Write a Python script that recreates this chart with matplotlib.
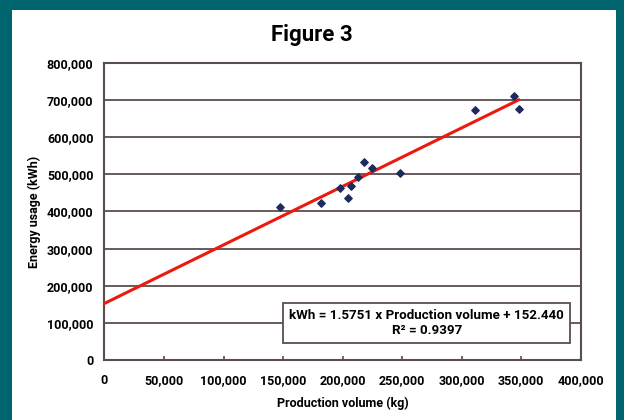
import numpy as np
import matplotlib.pyplot as plt
from matplotlib.patches import Rectangle
from matplotlib.ticker import FuncFormatter

plt.rcParams['font.family'] = ['Roboto', 'DejaVu Sans']
plt.rcParams['font.weight'] = 'bold'

# production volume (kg) vs energy usage (kWh)
production_kg = [147600, 182000, 198000, 204500, 207000, 213000,
                 218000, 225000, 248500, 311500, 344000, 348000]
energy_kwh = [411000, 424000, 463000, 436000, 468000, 493000,
              532000, 518000, 504000, 673000, 711000, 676000]

# fitted trend line
slope = 1.5751
intercept = 152440
r_squared = 0.9397

x_ticks = np.arange(0, 400001, 50000)
y_ticks = np.arange(0, 800001, 100000)

teal = '#00646e'
frame = '#5a4d4e'

fig = plt.figure(figsize=(6.24, 4.2), dpi=100)
fig.patch.set_facecolor(teal)
fig.patches.append(Rectangle((12 / 624, 0), (616 - 12) / 624, 1 - 10 / 420,
                             transform=fig.transFigure, facecolor='white',
                             edgecolor='none', zorder=-1))

ax = fig.add_axes([104.5 / 624, 60 / 420, 476 / 624, 297 / 420])
ax.set_facecolor('white')

ax.set_xlim(0, 400000)
ax.set_ylim(0, 800000)
ax.set_xticks(x_ticks)
ax.set_yticks(y_ticks)
fmt = FuncFormatter(lambda v, p: f"{int(v):,}")
ax.xaxis.set_major_formatter(fmt)
ax.yaxis.set_major_formatter(fmt)
ax.tick_params(axis='x', direction='in', length=3, width=1.2, color=frame,
               labelsize=9, pad=10)
ax.tick_params(axis='y', length=0, labelsize=9, pad=8)
for lbl in ax.get_xticklabels() + ax.get_yticklabels():
    lbl.set_fontweight('bold')

ax.grid(axis='y', color=frame, linewidth=1.3)
ax.set_axisbelow(True)
for s in ax.spines.values():
    s.set_color(frame)
    s.set_linewidth(1.5)

xl = np.array([0, max(production_kg)])
ax.plot(xl, slope * xl + intercept, color='#ec1a0e', linewidth=2.2, zorder=3)
ax.scatter(production_kg, energy_kwh, marker='D', s=14, color='#1c2a5e',
           zorder=4)

ax.text(0.677, 0.124, f"kWh = {slope} x Production volume + 152.440\n"
        f"R² = {r_squared}", transform=ax.transAxes, ha='center', va='center',
        fontsize=9.6, fontweight='bold', linespacing=1.25, zorder=5,
        bbox=dict(boxstyle='square,pad=0.45', facecolor='white',
                  edgecolor=frame, linewidth=1.3))

ax.set_xlabel('Production volume (kg)', fontsize=9, fontweight='bold',
              labelpad=7)
ax.set_ylabel('Energy usage (kWh)', fontsize=9, fontweight='bold',
              labelpad=4)

fig.text(0.5, 1 - 35 / 420, 'Figure 3', ha='center', va='center',
         fontsize=16, fontweight='bold')

fig.savefig('out.png', dpi=100, facecolor=teal)
